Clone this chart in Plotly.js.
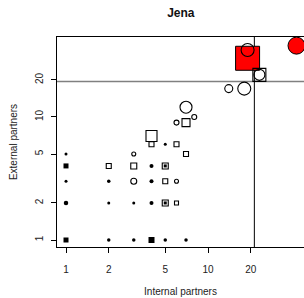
<!DOCTYPE html>
<html>
<head>
<meta charset="utf-8">
<script src="https://cdn.plot.ly/plotly-3.0.1.min.js"></script>
<style>html,body{margin:0;padding:0;background:#fff;}#chart{width:304px;height:298px;}</style>
</head>
<body>
<div id="chart"></div>
<script>
// ---- data (internal partners, external partners, marker size) ----
const dotX = [2, 3, 5, 7, 1, 2, 3, 4, 1, 2, 4, 4, 1, 5];
const dotY = [1, 1, 1, 1, 2, 2, 2, 2, 3, 3, 3, 4, 5, 6];
const dotSize = [3.5, 3.5, 3.5, 3.5, 4.5, 3, 3, 4, 3, 3.5, 4, 4, 3, 3];

const filledSqX = [1, 4, 1, 5, 5];
const filledSqY = [1, 1, 4, 2, 4];
const filledSqSize = [5, 6, 5, 3, 3];

const openSqX = [5, 6, 5, 2, 3, 5, 4, 6, 7, 4, 7, 23];
const openSqY = [2, 2, 3, 4, 4, 4, 6, 6, 5, 7, 9, 22];
const openSqSize = [6, 4, 5, 5, 6, 6, 5, 5, 5, 11, 8, 13];

const openCircX = [3, 6, 3, 6, 8, 7, 14, 18, 19, 23];
const openCircY = [3, 3, 5, 9, 10, 12, 17, 17, 35, 22];
const openCircSize = [6, 4, 4, 5, 5, 12, 8, 13, 13, 11];

const redSqX = [19];
const redSqY = [30];
const redSqSize = [24];

const redCircX = [42];
const redCircY = [38];
const redCircSize = [17];

const refX = 21.2;   // vertical reference line (internal partners)
const refY = 19.4;   // horizontal reference line (external partners)

const xTicks = [1, 2, 5, 10, 20];
const yTicks = [1, 2, 5, 10, 20];
const titleText = "Jena";
const xLabel = "Internal partners";
const yLabel = "External partners";

// ---- traces ----
const traces = [
  {x: redSqX, y: redSqY, type: 'scatter', mode: 'markers', hoverinfo: 'none',
   marker: {symbol: 'square', size: redSqSize, color: '#ff0000', opacity: 1, line: {color: '#000', width: 1}}},
  {x: filledSqX, y: filledSqY, type: 'scatter', mode: 'markers', hoverinfo: 'none',
   marker: {symbol: 'square', size: filledSqSize, color: '#000', opacity: 1, line: {width: 0}}},
  {x: dotX, y: dotY, type: 'scatter', mode: 'markers', hoverinfo: 'none',
   marker: {symbol: 'circle', size: dotSize, color: '#000', opacity: 1, line: {width: 0}}},
  {x: openSqX, y: openSqY, type: 'scatter', mode: 'markers', hoverinfo: 'none',
   marker: {symbol: 'square-open', size: openSqSize, color: '#000', opacity: 1, line: {width: 1.1}}},
  {x: openCircX, y: openCircY, type: 'scatter', mode: 'markers', hoverinfo: 'none',
   marker: {symbol: 'circle-open', size: openCircSize, color: '#000', opacity: 1, line: {width: 1.1}}},
  {x: redCircX, y: redCircY, type: 'scatter', mode: 'markers', hoverinfo: 'none',
   marker: {symbol: 'circle', size: redCircSize, color: '#ff0000', opacity: 1, line: {color: '#000', width: 1}}}
];

const font = {family: 'Liberation Sans, Arial, sans-serif', size: 10, color: '#222'};

const layout = {
  width: 304, height: 298,
  margin: {l: 57, r: 0, t: 37, b: 51, pad: 0},
  paper_bgcolor: '#fff', plot_bgcolor: '#fff',
  showlegend: false,
  font: font,
  title: {text: '<b>' + titleText + '</b>', font: {family: font.family, size: 12, color: '#111'},
          xref: 'container', yref: 'container', x: 0.595, xanchor: 'center', y: 0.958, yanchor: 'middle'},
  xaxis: {
    type: 'log', range: [-0.0634, 1.676],
    tickmode: 'array', tickvals: xTicks, ticktext: xTicks.map(String),
    ticks: 'outside', ticklen: 5, tickwidth: 1, tickcolor: '#000',
    ticklabelstandoff: 8,
    showline: true, linecolor: '#000', linewidth: 1, mirror: true,
    showgrid: false, zeroline: false,
    tickfont: font,
    title: {text: xLabel, font: font, standoff: 13}
  },
  yaxis: {
    type: 'log', range: [-0.0569, 1.650],
    tickmode: 'array', tickvals: yTicks, ticktext: yTicks.map(String),
    ticks: 'outside', ticklen: 5, tickwidth: 1, tickcolor: '#000',
    tickangle: -90, ticklabelstandoff: 4,
    showline: true, linecolor: '#000', linewidth: 1,
    showgrid: false, zeroline: false,
    tickfont: font,
    title: {text: yLabel, font: font, standoff: 14}
  },
  shapes: [
    {type: 'line', xref: 'paper', x0: 0, x1: 1, yref: 'y', y0: refY, y1: refY,
     line: {color: '#808080', width: 1.6}, layer: 'below'},
    {type: 'line', xref: 'x', x0: refX, x1: refX, yref: 'paper', y0: 0, y1: 1,
     line: {color: '#000', width: 1}, layer: 'below'}
  ]
};

Plotly.newPlot('chart', traces, layout, {staticPlot: true, displayModeBar: false});
</script>
</body>
</html>
